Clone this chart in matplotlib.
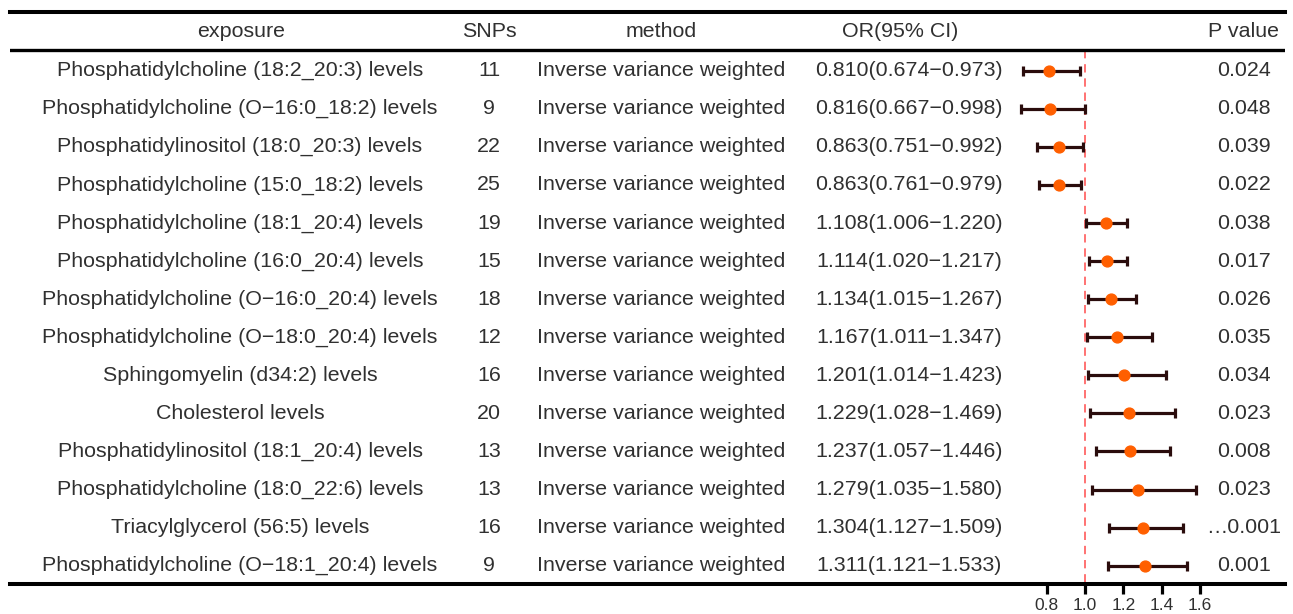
import matplotlib
matplotlib.use("Agg")
import matplotlib.pyplot as plt
import matplotlib.transforms as mtransforms
import numpy as np

plt.rcParams['font.family'] = ['Liberation Sans', 'DejaVu Sans']

exposures = [
    "Phosphatidylcholine (18:2_20:3) levels",
    "Phosphatidylcholine (O\u221216:0_18:2) levels",
    "Phosphatidylinositol (18:0_20:3) levels",
    "Phosphatidylcholine (15:0_18:2) levels",
    "Phosphatidylcholine (18:1_20:4) levels",
    "Phosphatidylcholine (16:0_20:4) levels",
    "Phosphatidylcholine (O\u221216:0_20:4) levels",
    "Phosphatidylcholine (O\u221218:0_20:4) levels",
    "Sphingomyelin (d34:2) levels",
    "Cholesterol levels",
    "Phosphatidylinositol (18:1_20:4) levels",
    "Phosphatidylcholine (18:0_22:6) levels",
    "Triacylglycerol (56:5) levels",
    "Phosphatidylcholine (O\u221218:1_20:4) levels",
]
snps = [11, 9, 22, 25, 19, 15, 18, 12, 16, 20, 13, 13, 16, 9]
methods = ["Inverse variance weighted"] * 14
or_vals = [0.810, 0.816, 0.863, 0.863, 1.108, 1.114, 1.134, 1.167, 1.201, 1.229, 1.237, 1.279, 1.304, 1.311]
ci_low = [0.674, 0.667, 0.751, 0.761, 1.006, 1.020, 1.015, 1.011, 1.014, 1.028, 1.057, 1.035, 1.127, 1.121]
ci_high = [0.973, 0.998, 0.992, 0.979, 1.220, 1.217, 1.267, 1.347, 1.423, 1.469, 1.446, 1.580, 1.509, 1.533]
pvals = ["0.024", "0.048", "0.039", "0.022", "0.038", "0.017", "0.026", "0.035", "0.034", "0.023", "0.008", "0.023", "\u20260.001", "0.001"]
headers = ["exposure", "SNPs", "method", "OR(95% CI)", "P value"]
xticks = [0.8, 1.0, 1.2, 1.4, 1.6]

W, H = 1293, 614
fig = plt.figure(figsize=(W / 100, H / 100), dpi=100)

left_px, right_px, top_px, bot_px = 10, 1285, 12, 584
ax = fig.add_axes([left_px / W, (H - bot_px) / H, (right_px - left_px) / W, (bot_px - top_px) / H])

ppu = 191.7  # pixels per OR unit
ref_px = 1085
ax.set_xlim(1 + (left_px - ref_px) / ppu, 1 + (right_px - ref_px) / ppu)
row0, dy = 70.7, 38.08
ax.set_ylim((bot_px - row0) / dy, (top_px - row0) / dy)

n = len(exposures)
y = np.arange(n)
orv = np.array(or_vals)
lo = np.array(ci_low)
hi = np.array(ci_high)

txtc = '#303030'
fs = 15.4

def fx(px):
    return (px - left_px) / (right_px - left_px)

trans = mtransforms.blended_transform_factory(ax.transAxes, ax.transData)

header_y = (32 - row0) / dy
hx = [241, 489, 661, 900, 1244]
for h, xp in zip(headers, hx):
    ax.text(fx(xp), header_y, h, transform=trans, ha='center', va='center', fontsize=fs, color=txtc)

for i in range(n):
    ax.text(fx(240), i, exposures[i], transform=trans, ha='center', va='center', fontsize=fs, color=txtc)
    ax.text(fx(489), i, str(snps[i]), transform=trans, ha='center', va='center', fontsize=fs, color=txtc)
    ax.text(fx(661), i, methods[i], transform=trans, ha='center', va='center', fontsize=fs, color=txtc)
    ax.text(fx(909), i, "%.3f(%.3f\u2212%.3f)" % (or_vals[i], ci_low[i], ci_high[i]),
            transform=trans, ha='center', va='center', fontsize=fs, color=txtc)
    ax.text(fx(1244), i, pvals[i], transform=trans, ha='center', va='center', fontsize=fs, color=txtc)

# header line
ax.axhline((50 - row0) / dy, color='black', lw=2.4, zorder=3)

# reference line
ax.plot([1.0, 1.0], [(50 - row0) / dy, (bot_px - row0) / dy], color='#FF5A5A', lw=1.2,
        ls=(0, (5, 3.5)), zorder=1)

ax.errorbar(orv, y, xerr=[orv - lo, hi - orv], fmt='o', color='#FF5F00', markersize=7.8,
            ecolor='#2A0C0C', elinewidth=2.3, capsize=3.3, capthick=2.3, zorder=4)

for s in ['left', 'right']:
    ax.spines[s].set_visible(False)
ax.spines['top'].set_linewidth(2.9)
ax.spines['bottom'].set_linewidth(2.9)
ax.set_yticks([])
ax.set_xticks(xticks)
ax.set_xticklabels(["%.1f" % t for t in xticks], fontsize=12.5, color=txtc)
ax.tick_params(axis='x', length=7, width=2.3, pad=3, color='black')

fig.savefig("out.png", dpi=100)
